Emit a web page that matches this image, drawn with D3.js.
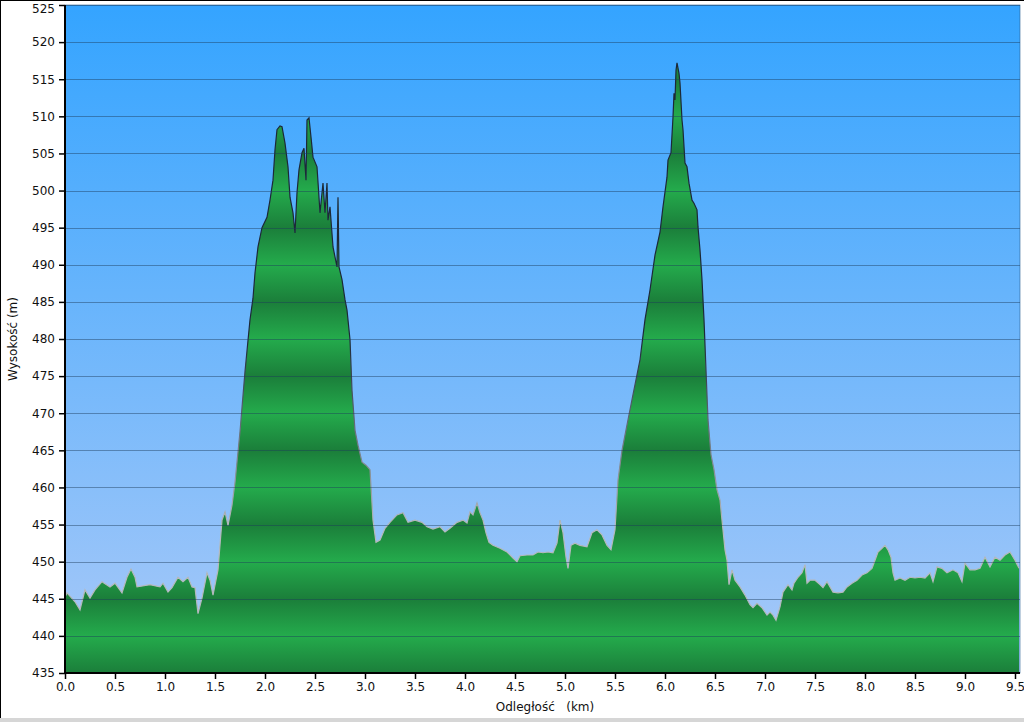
<!DOCTYPE html>
<html>
<head>
<meta charset="utf-8">
<script src="https://cdn.jsdelivr.net/npm/d3@7"></script>
<style>
  html, body { margin: 0; padding: 0; background: #fff; }
  svg { display: block; }
  text { font-family: "DejaVu Sans", Verdana, sans-serif; fill: #111; }
</style>
</head>
<body>
<svg width="1024" height="722"></svg>
<script>
// distance along the route (km) and elevation (m)
const distance = [0.00,0.02,0.10,0.15,0.20,0.25,0.30,0.37,0.45,0.50,0.57,0.62,0.66,0.70,0.72,0.85,0.95,0.98,1.03,1.07,
  1.13,1.18,1.23,1.27,1.30,1.33,1.37,1.42,1.45,1.48,1.53,1.57,1.60,1.63,1.67,1.70,1.75,1.80,1.85,1.88,
  1.90,1.93,1.97,2.02,2.05,2.08,2.10,2.12,2.15,2.17,2.20,2.23,2.25,2.28,2.30,2.32,2.34,2.37,2.39,2.41,
  2.42,2.44,2.46,2.48,2.52,2.55,2.58,2.60,2.62,2.63,2.65,2.68,2.72,2.73,2.74,2.77,2.80,2.82,2.85,2.87,
  2.90,2.93,2.97,3.01,3.05,3.08,3.11,3.15,3.20,3.25,3.32,3.38,3.43,3.50,3.57,3.62,3.68,3.75,3.80,3.85,
  3.92,3.98,4.02,4.05,4.08,4.12,4.15,4.18,4.21,4.24,4.28,4.35,4.42,4.48,4.52,4.55,4.62,4.68,4.73,4.78,
  4.83,4.88,4.92,4.95,4.98,5.01,5.03,5.06,5.10,5.15,5.22,5.27,5.32,5.37,5.42,5.46,5.50,5.53,5.57,5.63,
  5.68,5.75,5.80,5.85,5.90,5.95,5.98,6.02,6.03,6.06,6.08,6.09,6.10,6.11,6.12,6.14,6.15,6.17,6.18,6.20,
  6.22,6.24,6.27,6.29,6.32,6.33,6.35,6.37,6.39,6.41,6.43,6.46,6.49,6.52,6.55,6.57,6.60,6.62,6.64,6.67,
  6.70,6.75,6.80,6.85,6.88,6.92,6.97,7.02,7.05,7.08,7.11,7.15,7.18,7.23,7.27,7.29,7.33,7.37,7.40,7.42,
  7.45,7.50,7.55,7.58,7.62,7.65,7.68,7.73,7.78,7.82,7.87,7.92,7.97,8.02,8.07,8.10,8.13,8.17,8.20,8.23,
  8.26,8.28,8.30,8.35,8.40,8.45,8.50,8.55,8.60,8.65,8.68,8.72,8.77,8.82,8.88,8.93,8.97,9.00,9.05,9.10,
  9.15,9.20,9.25,9.30,9.35,9.40,9.45,9.50,9.54]

const elevation = [445.2,445.8,444.6,443.5,446.2,445.1,446.2,447.3,446.6,447.1,445.8,447.9,449.0,447.9,446.6,446.9,446.6,447.1,445.9,446.5,
  447.9,447.3,447.9,446.6,446.5,443.0,445.1,448.5,447.5,445.5,448.9,455.6,456.7,454.9,457.6,460.7,467.5,475.6,482.6,485.5,
  488.9,492.4,495.0,496.4,498.7,501.4,505.5,508.2,508.7,508.6,506.4,503.2,499.1,497.0,494.3,499.7,502.8,505.1,505.7,501.4,
  509.5,509.8,507.2,504.5,503.2,497.0,501.0,497.0,501.0,496.0,497.8,492.4,489.7,499.1,489.7,488.0,485.3,483.9,479.9,473.1,
  467.7,465.7,463.4,463.0,462.4,455.6,452.6,452.9,454.5,455.3,456.3,456.6,455.3,455.6,455.3,454.7,454.4,454.7,454.0,454.5,
  455.3,455.6,455.2,456.7,456.3,457.9,456.6,455.6,453.9,452.6,452.2,451.8,451.3,450.5,450.0,450.8,450.9,450.9,451.3,451.2,
  451.3,451.2,452.5,455.6,453.9,450.6,449.1,452.2,452.5,452.2,452.0,453.9,454.3,453.6,452.2,451.6,454.3,461.0,465.0,469.1,
  472.5,477.2,482.6,486.6,491.3,494.4,497.8,501.8,504.1,505.1,509.9,513.1,512.2,516.2,517.2,515.8,514.5,509.5,508.2,503.7,
  503.2,501.0,498.7,498.3,497.4,495.1,492.0,488.0,482.6,475.8,469.1,464.4,462.4,459.7,458.3,455.6,451.6,450.2,446.9,448.9,
  447.5,446.6,445.5,444.2,443.8,444.4,443.8,442.8,443.2,442.8,442.1,443.9,445.9,446.9,446.2,447.1,447.9,448.5,449.6,447.1,
  447.5,447.5,446.9,446.5,447.3,446.6,445.9,445.8,445.9,446.6,447.1,447.5,448.2,448.5,449.1,450.2,451.3,451.8,452.2,451.6,
  450.6,448.5,447.5,447.8,447.5,447.9,447.8,447.9,447.8,448.5,447.3,449.3,449.1,448.5,448.9,448.5,447.3,449.8,448.9,448.9,
  449.1,450.6,449.3,450.6,450.2,450.9,451.3,450.2,449.1]

const yTicks = d3.range(435, 526, 5)
const xTicks = d3.range(0, 9.51, 0.5)

const margin = {top: 5, left: 65, right: 4, bottom: 49}
const W = 1024, H = 722
const svg = d3.select('svg')

const x = d3.scaleLinear([0, 9.55], [margin.left, W - margin.right])
const y = d3.scaleLinear([435, 525], [H - margin.bottom, margin.top])

const data = distance.map((d, i) => ({km: d, m: elevation[i]}))

const defs = svg.append('defs')

// blue sky gradient
const sky = defs.append('linearGradient').attr('id', 'sky')
  .attr('x1', 0).attr('y1', 0).attr('x2', 0).attr('y2', 1)
sky.append('stop').attr('offset', 0).attr('stop-color', '#34a4ff')
sky.append('stop').attr('offset', 1).attr('stop-color', '#a9c9f8')

// banded green, repeats every 10 m
const band = defs.append('linearGradient').attr('id', 'band')
  .attr('gradientUnits', 'userSpaceOnUse')
  .attr('spreadMethod', 'repeat')
  .attr('x1', 0).attr('x2', 0)
  .attr('y1', y(450)).attr('y2', y(440))
band.append('stop').attr('offset', 0).attr('stop-color', '#24ab4c')
band.append('stop').attr('offset', 0.5).attr('stop-color', '#1b7e3a')
band.append('stop').attr('offset', 1).attr('stop-color', '#24ab4c')

// outline: dark at the peaks, greyish down low
const edge = defs.append('linearGradient').attr('id', 'edge')
  .attr('gradientUnits', 'userSpaceOnUse')
  .attr('x1', 0).attr('x2', 0)
  .attr('y1', y(480)).attr('y2', y(455))
edge.append('stop').attr('offset', 0).attr('stop-color', '#1c2838')
edge.append('stop').attr('offset', 1).attr('stop-color', '#b4b8bc')

// outer frame
svg.append('rect').attr('x', 0).attr('y', 0).attr('width', W).attr('height', H).attr('fill', '#fff')
svg.append('rect').attr('x', 0).attr('y', 718).attr('width', W).attr('height', 4).attr('fill', '#d6d6d6')
svg.append('line').attr('x1', 0.5).attr('x2', 0.5).attr('y1', 0).attr('y2', 718).attr('stroke', '#000')
svg.append('line').attr('x1', 0).attr('x2', W).attr('y1', 0.5).attr('y2', 0.5).attr('stroke', '#000')

// plot background
svg.append('rect')
  .attr('x', x(0)).attr('y', y(525))
  .attr('width', x(9.55) - x(0)).attr('height', y(435) - y(525))
  .attr('fill', 'url(#sky)')
  .attr('stroke', '#2a5f90').attr('stroke-width', 0.6)

// elevation area
const area = d3.area()
  .x(d => x(d.km))
  .y0(y(435))
  .y1(d => y(d.m))

const line = d3.line()
  .x(d => x(d.km))
  .y(d => y(d.m))

svg.append('path')
  .datum(data)
  .attr('d', area)
  .attr('fill', 'url(#band)')

svg.append('path')
  .datum(data)
  .attr('d', line)
  .attr('fill', 'none')
  .attr('stroke', 'url(#edge)')
  .attr('stroke-width', 1.2)

// horizontal grid
svg.append('g')
  .selectAll('line').data(yTicks.slice(1)).enter()
  .append('line')
    .attr('x1', x(0)).attr('x2', x(9.55))
    .attr('y1', d => Math.round(y(d)) + 0.5).attr('y2', d => Math.round(y(d)) + 0.5)
    .attr('stroke', '#1c3c5c').attr('stroke-opacity', 0.45)

// axes
const yAxis = d3.axisLeft(y).tickValues(yTicks).tickSize(6).tickPadding(4).tickFormat(d3.format('d'))
const xAxis = d3.axisBottom(x).tickValues(xTicks).tickSize(6).tickPadding(3).tickFormat(d3.format('.1f'))

svg.append('g')
  .attr('transform', `translate(${x(0)},0)`)
  .call(yAxis)
  .call(g => g.select('.domain').attr('stroke', '#000').attr('stroke-width', 2).attr('d', `M0,${y(525)}V${y(435)}`))
  .call(g => g.selectAll('.tick line').attr('stroke', '#000').attr('stroke-width', 1.5))
  .call(g => g.selectAll('.tick text').style('font-size', '12px').attr('fill', '#111'))
  // top label sits a little lower so it stays inside the picture
  .call(g => g.selectAll('.tick').filter(d => d === 525).select('text').attr('y', 4))

svg.append('g')
  .attr('transform', `translate(0,${y(435)})`)
  .call(xAxis)
  .call(g => g.select('.domain').attr('stroke', '#000').attr('stroke-width', 2).attr('d', `M${x(0)},0H${x(9.55)}`))
  .call(g => g.selectAll('.tick line').attr('stroke', '#000').attr('stroke-width', 1.5))
  .call(g => g.selectAll('.tick text').style('font-size', '12px').attr('fill', '#111'))

// axis titles
svg.append('text')
  .attr('transform', `translate(17,${(y(525) + y(435)) / 2}) rotate(-90)`)
  .attr('text-anchor', 'middle')
  .style('font-size', '12px')
  .text('Wysokość (m)')

svg.append('text')
  .attr('x', 545).attr('y', 711)
  .attr('text-anchor', 'middle')
  .style('font-size', '12px')
  .style('white-space', 'pre')
  .attr('xml:space', 'preserve')
  .text('Odległość   (km)')
</script>
</body>
</html>
